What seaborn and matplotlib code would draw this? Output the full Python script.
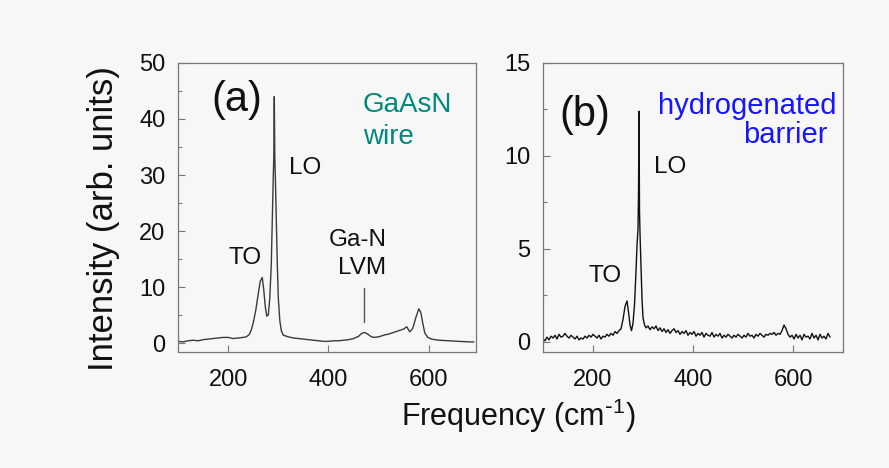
import numpy as np
import pandas as pd
import matplotlib
matplotlib.use("Agg")
import matplotlib.pyplot as plt
import seaborn as sns

# ---- Data ----
freq_a = [100, 110, 120, 130, 140, 150, 160, 170, 180, 190, 200, 210, 220, 230,
          236, 242, 246, 250, 255, 260, 264, 268, 271, 274, 277, 280, 283, 286,
          288, 290, 291, 292, 293, 294, 296, 298, 300, 303, 306, 310, 320, 330,
          340, 350, 360, 370, 380, 390, 400, 410, 420, 430, 440, 450, 460, 466,
          472, 478, 484, 490, 500, 510, 520, 530, 540, 550, 556, 562, 568, 574,
          580, 584, 588, 592, 598, 605, 620, 640, 660, 680, 690]
int_a = [0.3, 0.2, 0.4, 0.5, 0.4, 0.6, 0.7, 0.8, 0.9, 1.0, 1.0, 0.8, 0.9, 1.0,
         1.1, 1.5, 2.3, 3.6, 5.8, 8.8, 11.0, 11.7, 9.5, 6.5, 4.8, 5.0, 8.0, 14.0,
         22.0, 30.0, 33.0, 44.0, 33.0, 30.0, 22.0, 14.0, 8.0, 4.0, 2.2, 1.4, 1.1, 0.9,
         0.8, 0.7, 0.6, 0.5, 0.4, 0.3, 0.3, 0.4, 0.4, 0.5, 0.6, 0.8, 1.2, 1.7,
         1.9, 1.6, 1.2, 1.0, 1.1, 1.4, 1.6, 1.9, 2.2, 2.5, 2.9, 2.0, 2.6, 4.5,
         6.1, 5.5, 3.5, 1.8, 1.0, 0.7, 0.5, 0.4, 0.3, 0.2, 0.2]

freq_b = [100, 104, 108, 112, 116, 120, 124, 128, 132, 136, 140, 144, 148, 152,
          156, 160, 164, 168, 172, 176, 180, 184, 188, 192, 196, 200, 204, 208,
          212, 216, 220, 224, 228, 232, 236, 240, 244, 248, 252, 256, 260, 264,
          268, 271, 274, 277, 280, 283, 286, 288, 290, 291, 292, 293, 294, 296,
          298, 300, 303, 306, 310, 314, 318, 322, 326, 330, 334, 338, 342, 346,
          350, 354, 358, 362, 366, 370, 374, 378, 382, 386, 390, 394, 398, 402,
          406, 410, 414, 418, 422, 426, 430, 434, 438, 442, 446, 450, 454, 458,
          462, 466, 470, 474, 478, 482, 486, 490, 494, 498, 502, 506, 510, 514,
          518, 522, 526, 530, 534, 538, 542, 546, 550, 554, 558, 562, 566, 570,
          574, 578, 582, 586, 590, 594, 598, 602, 606, 610, 614, 618, 622, 626,
          630, 634, 638, 642, 646, 650, 654, 658, 662, 666, 670, 674]
int_b = [0.15, 0.05, 0.25, 0.10, 0.30, 0.20, 0.35, 0.15, 0.40, 0.25, 0.30, 0.45, 0.30, 0.20,
         0.35, 0.25, 0.15, 0.30, 0.10, 0.20, 0.15, 0.30, 0.20, 0.35, 0.25, 0.40, 0.30, 0.20,
         0.35, 0.15, 0.30, 0.25, 0.40, 0.30, 0.45, 0.35, 0.55, 0.45, 0.60, 0.70, 1.20, 1.90,
         2.20, 1.60, 0.90, 0.60, 1.00, 2.00, 3.80, 5.20, 6.10, 8.00, 12.40, 7.00, 5.80, 4.00,
         2.30, 1.30, 0.90, 0.75, 0.85, 0.65, 0.80, 0.70, 0.85, 0.60, 0.75, 0.55, 0.70, 0.50,
         0.65, 0.45, 0.60, 0.70, 0.50, 0.60, 0.40, 0.55, 0.45, 0.60, 0.35, 0.50, 0.40, 0.55,
         0.30, 0.45, 0.35, 0.50, 0.25, 0.45, 0.35, 0.30, 0.50, 0.25, 0.40, 0.30, 0.45, 0.20,
         0.35, 0.25, 0.40, 0.30, 0.20, 0.35, 0.25, 0.40, 0.30, 0.20, 0.35, 0.25, 0.45, 0.30,
         0.35, 0.20, 0.40, 0.30, 0.45, 0.35, 0.25, 0.40, 0.35, 0.45, 0.40, 0.50, 0.35, 0.45,
         0.40, 0.60, 0.90, 0.70, 0.40, 0.25, 0.35, 0.15, 0.40, 0.20, 0.35, 0.10, 0.40, 0.25,
         0.30, 0.15, 0.45, 0.20, 0.35, 0.10, 0.40, 0.20, 0.30, 0.15, 0.45, 0.25]

xticks = [200, 400, 600]
yticks_a = [0, 10, 20, 30, 40, 50]
yticks_b = [0, 5, 10, 15]

df_a = pd.DataFrame({"Frequency": freq_a, "Intensity": int_a})
df_b = pd.DataFrame({"Frequency": freq_b, "Intensity": int_b})

# ---- Style ----
sns.set_style("ticks")
plt.rcParams["font.family"] = ["Liberation Sans", "DejaVu Sans"]
bg = "#f7f7f7"
spine_c = "#777777"

fig = plt.figure(figsize=(8.89, 4.68), dpi=100, facecolor=bg)
ax1 = fig.add_axes([0.2002, 0.2479, 0.3352, 0.6175])
ax2 = fig.add_axes([0.6108, 0.2479, 0.3375, 0.6175])

sns.lineplot(data=df_a, x="Frequency", y="Intensity", ax=ax1, color="#3a3a3a",
             linewidth=1.0, estimator=None, sort=False)
sns.lineplot(data=df_b, x="Frequency", y="Intensity", ax=ax2, color="#111111",
             linewidth=1.0, estimator=None, sort=False)

ax1.set_xlim(100, 694)
ax1.set_ylim(-1.6, 50)
ax2.set_xlim(100, 700)
ax2.set_ylim(-0.55, 15)

for ax, yt, minor in ((ax1, yticks_a, 5), (ax2, yticks_b, 2.5)):
    ax.set_facecolor(bg)
    ax.set_xticks(xticks)
    ax.set_yticks(yt)
    ax.yaxis.set_minor_locator(matplotlib.ticker.MultipleLocator(minor))
    ax.tick_params(axis="both", which="both", direction="in", colors=spine_c,
                   labelcolor="#111111", labelsize=17, width=0.8)
    ax.tick_params(axis="both", which="major", length=5)
    ax.tick_params(axis="both", which="minor", length=3)
    ax.tick_params(axis="x", pad=12)
    ax.tick_params(axis="y", pad=9)
    ax.set_xlabel("")
    ax.set_ylabel("")
    for s in ax.spines.values():
        s.set_visible(True)
        s.set_color(spine_c)
        s.set_linewidth(0.9)

# Panel (a) annotations
ax1.text(217, 43.4, "(a)", fontsize=30, ha="center", va="center", color="#111111")
ax1.text(468, 42.5, "GaAsN", fontsize=20, ha="left", va="center", color="#00897b")
ax1.text(468, 36.8, "wire", fontsize=20, ha="left", va="center", color="#00897b")
ax1.text(321, 31.3, "LO", fontsize=17.5, ha="left", va="center", color="#111111")
ax1.text(233, 15.2, "TO", fontsize=17.5, ha="center", va="center", color="#111111")
ax1.text(458, 18.4, "Ga-N", fontsize=17.5, ha="center", va="center", color="#111111")
ax1.text(466, 13.4, "LVM", fontsize=17.5, ha="center", va="center", color="#111111")
ax1.plot([470, 470], [3.7, 9.9], color="#555555", linewidth=1.0)

# Panel (b) annotations
ax2.text(184, 12.2, "(b)", fontsize=30, ha="center", va="center", color="#111111")
ax2.text(508, 12.7, "hydrogenated", fontsize=21, ha="center", va="center", color="#1515ff")
ax2.text(584, 11.1, "barrier", fontsize=21, ha="center", va="center", color="#1515ff")
ax2.text(322, 9.4, "LO", fontsize=17.5, ha="left", va="center", color="#111111")
ax2.text(224, 3.56, "TO", fontsize=17.5, ha="center", va="center", color="#111111")

# Shared axis labels
fig.text(0.1159, 0.534, "Intensity (arb. units)", rotation=90, fontsize=25,
         ha="center", va="center", color="#111111")
fig.text(0.5827, 0.112, r"Frequency (cm$^{\mathregular{\text{-}1}}$)", fontsize=22,
         ha="center", va="center", color="#111111")

fig.savefig("out.png", dpi=100, facecolor=bg)
